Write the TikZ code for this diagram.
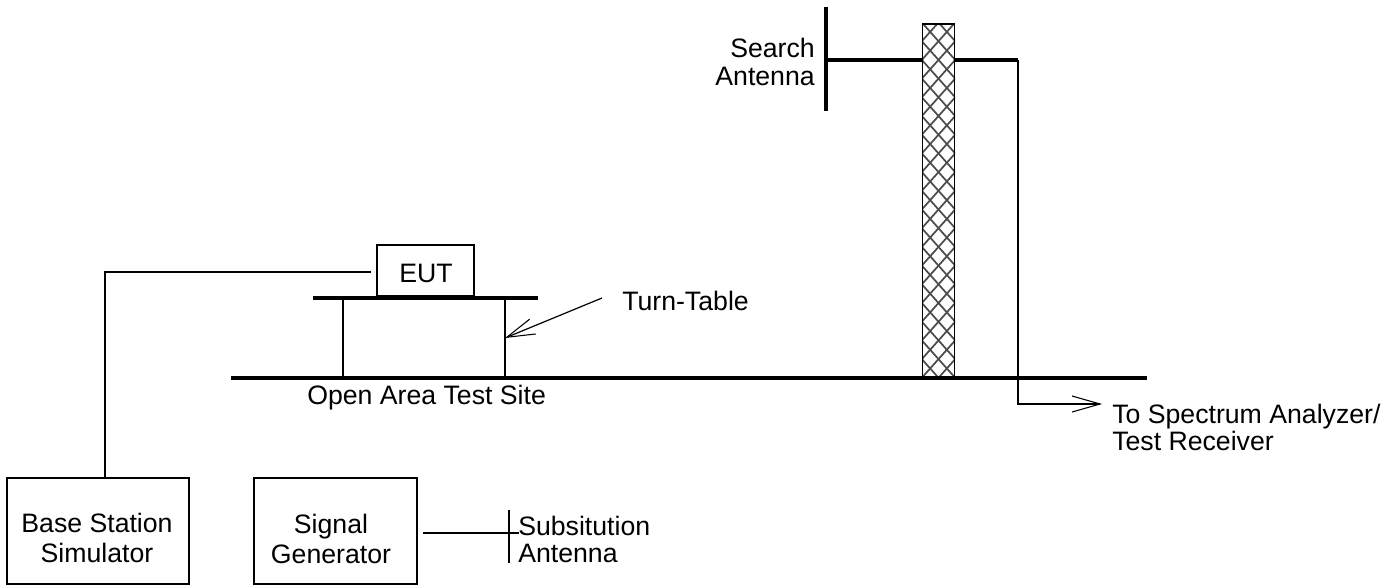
\documentclass[tikz,border=0pt]{standalone}
\usepackage{fontspec}
\setmainfont{Liberation Sans}
\usetikzlibrary{positioning}
\usetikzlibrary{arrows.meta}
\tikzset{%
  wire/.style = {line width=0.9pt},
  bar/.style = {line width=3.3pt},
  hatch/.style = {line width=1.3pt,black!70},
  openarrow/.style = {-{Straight Barb[length=21pt,width=12pt,line width=0.8pt]},line width=0.9pt},
  b/.style = {rectangle,draw,line width=0.9pt,inner sep=0pt},
  l/.style = {font=\fontsize{20pt}{20.3pt}\selectfont,inner sep=0pt,align=center}
}
\begin{document}
\begin{tikzpicture}[x=0.75pt,y=-0.75pt]
\useasboundingbox (0,0) rectangle (1395,585);
% mast
\begin{scope}
    \clip (922,24) rectangle (955,378);
    \foreach \k in {-3,...,20} {
        \draw[hatch] (922,\k*18.7+4) -- (955,\k*18.7+41);
        \draw[hatch] (955,\k*18.7+4) -- (922,\k*18.7+41);
    }
\end{scope}
\node[b,minimum width=24.5pt,minimum height=265.5pt] (mast) at (938.5,201) {};
% ground and table
\coordinate (gl) at (231,378);
\coordinate (gr) at (1147,378);
\coordinate (tl) at (313,298);
\coordinate (tr) at (538,298);
\coordinate (l1) at (343,298);
\coordinate (l2) at (505,298);
\coordinate (f1) at (343,378);
\coordinate (f2) at (505,378);
\draw[bar] (gl) -- (gr);
\draw[bar] (tl) -- (tr);
\draw[wire] (l1) -- (f1);
\draw[wire] (l2) -- (f2);
\node[b,minimum width=72.75pt,minimum height=38.25pt] (eut) at (425.5,270.5) {};
\node[l] (eutlabel) at (426,273) {EUT};
% boxes
\node[b,minimum width=136.5pt,minimum height=79.5pt] (base) at (98,531) {};
\node[l] (baselabel) at (97,538) {Base Station\\[2pt]Simulator};
\node[b,minimum width=122.25pt,minimum height=79.5pt] (gen) at (335.5,531) {};
\node[l] (genlabel) at (331,539) {Signal\\[2pt]Generator};
% search antenna
\coordinate (a1) at (826,7);
\coordinate (a2) at (826,111);
\coordinate (a3) at (826,60);
\coordinate (a4) at (922,60);
\coordinate (a5) at (955,60);
\coordinate (a6) at (1018,60);
\coordinate (a7) at (1018,404);
\coordinate (a8) at (1102,404);
\draw[bar] (a1) -- (a2);
\draw[bar] (a3) -- (a4);
\draw[bar] (a5) -- (a6);
\draw[openarrow] (a6) -- (a7) -- (a8);
\node[l,align=right,anchor=east] (search) at (815,62) {Search\\Antenna};
\node[l,align=left,anchor=north west] (spec) at (1112,404) {To Spectrum Analyzer/\\Test Receiver};
% eut wire
\coordinate (w1) at (371,272);
\coordinate (w2) at (105,272);
\draw[wire] (w1) -- (w2) -- (w2 |- base.north);
% turn-table
\coordinate (t1) at (602,298);
\coordinate (t2) at (505,338);
\draw[openarrow] (t1) -- (t2);
\node[l,anchor=west] (turn) at (622,301) {Turn-Table};
\node[l,anchor=west] (site) at (307,398) {Open Area Test Site};
% substitution antenna
\coordinate (s1) at (509,510);
\coordinate (s2) at (509,563);
\coordinate (s3) at (423,533);
\coordinate (s4) at (519,533);
\draw[wire] (s1) -- (s2);
\draw[wire] (s3) -- (s4);
\node[l,align=left,anchor=west] (sub) at (518,539) {Subsitution\\Antenna};
\end{tikzpicture}
\end{document}
